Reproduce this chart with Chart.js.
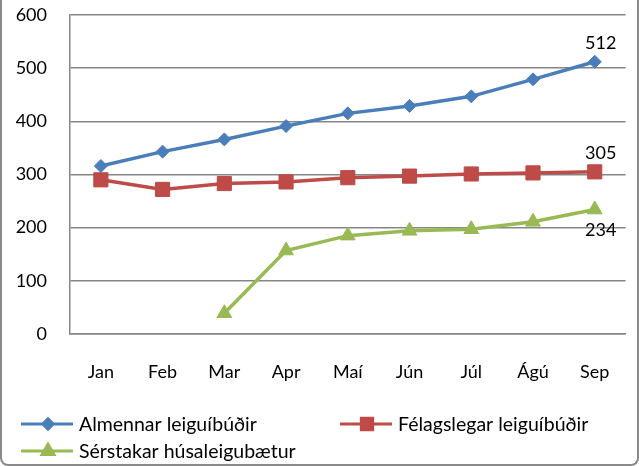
<!DOCTYPE html>
<html>
<head>
<meta charset="utf-8">
<script src="https://cdn.jsdelivr.net/npm/chart.js@4.4.1/dist/chart.umd.min.js"></script>
<style>
  html, body { margin: 0; padding: 0; background: #fff; }
  #wrap {
    width: 639px; height: 466px; box-sizing: border-box;
    border: 2px solid #8a8a8a; border-top: none;
    border-radius: 0 0 8px 8px; position: relative;
  }
  #chart { display: block; }
</style>
</head>
<body>
<div id="wrap"><canvas id="chart" width="635" height="464"></canvas></div>
<script>
// ----------------------
//  DATA
// ----------------------
const months = ['Jan', 'Feb', 'Mar', 'Apr', 'Maí', 'Jún', 'Júl', 'Ágú', 'Sep'];
const almennar = [316, 343, 366, 391, 415, 429, 447, 479, 512];
const felagslegar = [290, 272, 283, 286, 294, 297, 301, 303, 305];
const serstakar = [null, null, 39, 157, 185, 194, 197, 211, 234];
const seriesNames = ['Almennar leiguíbúðir', 'Félagslegar leiguíbúðir', 'Sérstakar húsaleigubætur'];
const yTicks = [0, 100, 200, 300, 400, 500, 600];

const FONT = 'Lato, "Open Sans", sans-serif';

//  LAST VALUE LABELS
const lastLabelPlugin = {
    id: 'lastLabel',
    afterDatasetsDraw(chart) {
        const ctx = chart.ctx;
        ctx.save();
        ctx.font = '18px ' + FONT;
        ctx.fillStyle = '#000';
        ctx.textAlign = 'center';
        ctx.textBaseline = 'middle';
        chart.data.datasets.forEach((ds, i) => {
            const meta = chart.getDatasetMeta(i);
            const last = meta.data[meta.data.length - 1];
            const off = ds.labelBelow ? 21 : -19;
            ctx.fillText(ds.data[ds.data.length - 1], last.x + 6, last.y + off);
        });
        ctx.restore();
    }
};

//  LEGEND (line + marker, two columns)
const legendPlugin = {
    id: 'colLegend',
    afterDraw(chart, args, opts) {
        const ctx = chart.ctx;
        ctx.save();
        ctx.font = '19.5px ' + FONT;
        ctx.textBaseline = 'middle';
        chart.data.datasets.forEach((ds, i) => {
            const x = opts.cols[i % 2];
            const y = opts.rows[Math.floor(i / 2)];
            ctx.strokeStyle = ds.borderColor;
            ctx.fillStyle = ds.backgroundColor;
            ctx.lineWidth = 3;
            ctx.beginPath();
            ctx.moveTo(x, y);
            ctx.lineTo(x + 52, y);
            ctx.stroke();
            Chart.helpers.drawPoint(ctx, {
                pointStyle: ds.pointStyle,
                radius: ds.pointRadius * 0.8,
                borderWidth: 1
            }, x + 27, y);
            ctx.fillStyle = '#000';
            ctx.fillText(ds.label, x + 58, y + 1);
        });
        ctx.restore();
    }
};

const ctx = document.getElementById('chart').getContext('2d');
const chart = new Chart(ctx, {
    type: 'line',
    data: {
        labels: months,
        datasets: [{
            label: seriesNames[0],
            data: almennar,
            borderColor: '#4A7EBB',
            backgroundColor: '#4A7EBB',
            pointStyle: 'rectRot',
            pointRadius: 6.5,
        }, {
            label: seriesNames[1],
            data: felagslegar,
            borderColor: '#BE4B48',
            backgroundColor: '#BE4B48',
            pointStyle: 'rect',
            pointRadius: 10,
        }, {
            label: seriesNames[2],
            data: serstakar,
            borderColor: '#98B954',
            backgroundColor: '#98B954',
            pointStyle: 'triangle',
            pointRadius: 8.5,
            labelBelow: true,
        }]
    },
    options: {
        responsive: false,
        animation: false,
        elements: {
            line: { borderWidth: 3.5, tension: 0 },
            point: { borderWidth: 1, hoverRadius: 8 }
        },
        layout: { padding: { top: 15, right: 9, left: 0, bottom: 80 } },
        plugins: {
            legend: { display: false },
            tooltip: { enabled: false },
            colLegend: { cols: [19, 338], rows: [424, 451] }
        },
        scales: {
            x: {
                offset: true,
                grid: { display: false, drawTicks: false },
                border: { color: '#868686', width: 1.5 },
                ticks: { color: '#000', font: { size: 18, family: FONT }, padding: 27 },
                afterFit(scale) { scale.height = 50; }
            },
            y: {
                min: 0,
                max: 600,
                afterBuildTicks(scale) { scale.ticks = yTicks.map(v => ({ value: v })); },
                // invisible tick marks push the labels away from the axis
                grid: { color: '#868686', lineWidth: 1.5, drawTicks: true, tickLength: 20, tickColor: 'rgba(0,0,0,0)' },
                border: { color: '#868686', width: 1.5 },
                ticks: { color: '#000', font: { size: 18, family: FONT }, padding: 3 },
                afterFit(scale) { scale.width = 68; }
            }
        }
    },
    plugins: [lastLabelPlugin, legendPlugin]
});
</script>
</body>
</html>
